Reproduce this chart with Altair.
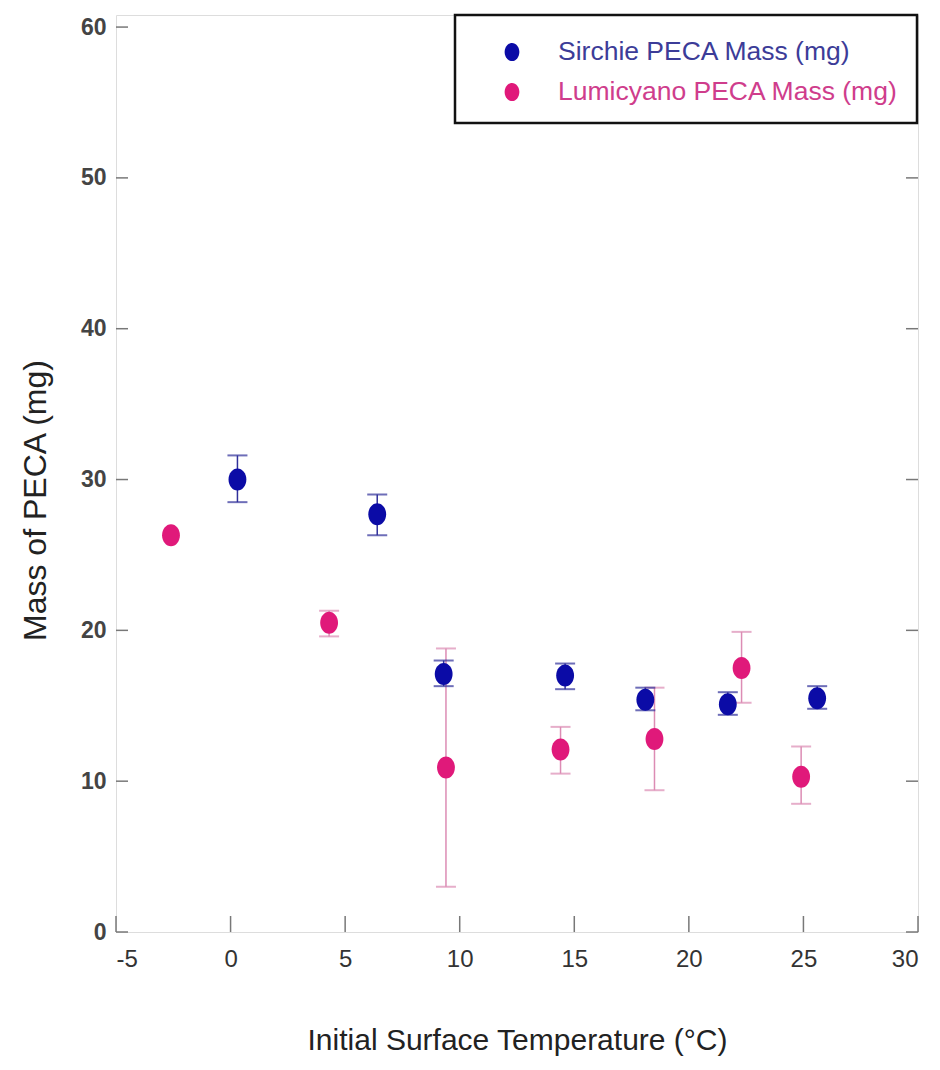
import altair as alt
import pandas as pd

# ---- data ----
sirchie_temp = [0.3, 6.4, 9.3, 14.6, 18.1, 21.7, 25.6]
sirchie_mass = [30.0, 27.7, 17.1, 17.0, 15.4, 15.1, 15.5]
sirchie_lo = [28.5, 26.3, 16.3, 16.1, 14.7, 14.4, 14.8]
sirchie_hi = [31.6, 29.0, 18.0, 17.8, 16.2, 15.9, 16.3]

lumi_temp = [-2.6, 4.3, 9.4, 14.4, 18.5, 22.3, 24.9]
lumi_mass = [26.3, 20.5, 10.9, 12.1, 12.8, 17.5, 10.3]
lumi_lo = [None, 19.6, 3.0, 10.5, 9.4, 15.2, 8.5]
lumi_hi = [None, 21.3, 18.8, 13.6, 16.2, 19.9, 12.3]

series_names = ["Sirchie PECA Mass (mg)", "Lumicyano PECA Mass (mg)"]
x_ticks = [-5, 0, 5, 10, 15, 20, 25, 30]
y_ticks = [0, 10, 20, 30, 40, 50, 60]

BLUE = "#0b0ba6"
PINK = "#e0197a"
BLUE_ERR = "#30309a"
PINK_ERR = "#dc8cb4"
FRAME = "#787878"
FONT = "Liberation Sans"

W, H = 802, 917

s_df = pd.DataFrame({"t": sirchie_temp, "m": sirchie_mass, "lo": sirchie_lo, "hi": sirchie_hi})
l_df = pd.DataFrame({"t": lumi_temp, "m": lumi_mass, "lo": lumi_lo, "hi": lumi_hi})
xt_df = pd.DataFrame({"t": x_ticks})
yt_df = pd.DataFrame({"m": y_ticks})

xscale = alt.Scale(domain=[-5, 30], nice=False, zero=False)
yscale = alt.Scale(domain=[0, 60.8], nice=False, zero=False)

X_TITLE = "Initial Surface Temperature (\u00b0C)"
Y_TITLE = "Mass of PECA (mg)"

x_axis = alt.Axis(
    values=x_ticks, grid=False, domain=False, ticks=False, tickSize=0,
    labelExpr="'' + datum.value",
    labelPadding=15, labelFontSize=24, labelFont=FONT, labelColor="#333333",
    title=X_TITLE, titleFont=FONT, titleFontSize=30,
    titleFontWeight="normal", titleColor="#222222", titleY=108, titleBaseline="middle",
)
y_axis = alt.Axis(
    values=y_ticks, grid=False, domain=False, ticks=False, tickSize=0,
    labelPadding=10, labelFontSize=23, labelFont=FONT, labelFontWeight="bold",
    labelColor="#444444",
    title=Y_TITLE, titleFont=FONT, titleFontSize=32,
    titleFontWeight="normal", titleColor="#222222",
    titleX=-81, titleY=485, titleAngle=-90, titleAlign="center", titleBaseline="middle",
)


def X(field="t"):
    return alt.X(f"{field}:Q", scale=xscale, axis=x_axis, title=X_TITLE)


def Y(field="m"):
    return alt.Y(f"{field}:Q", scale=yscale, axis=y_axis, title=Y_TITLE)


# inward ticks on left, right and bottom edges
left_ticks = alt.Chart(yt_df).mark_rule(color=FRAME, strokeWidth=1.5).encode(
    y=Y(), x=alt.value(0), x2=alt.value(12))
right_ticks = alt.Chart(yt_df).mark_rule(color=FRAME, strokeWidth=1.5).encode(
    y=Y(), x=alt.value(W - 12), x2=alt.value(W))
bottom_ticks = alt.Chart(xt_df).mark_rule(color=FRAME, strokeWidth=1.5).encode(
    x=X(), y=alt.value(H - 16), y2=alt.value(H))


def errbars(df, color):
    line = alt.Chart(df).mark_rule(color=color, strokeWidth=1.5).encode(
        x=X(), y=Y("lo"), y2="hi:Q")
    cap_lo = alt.Chart(df).mark_tick(color=color, orient="horizontal", size=20, thickness=2).encode(
        x=X(), y=Y("lo"))
    cap_hi = alt.Chart(df).mark_tick(color=color, orient="horizontal", size=20, thickness=2).encode(
        x=X(), y=Y("hi"))
    return [line, cap_lo, cap_hi]


ELLIPSE = "M0,-1.05A0.85,1.05 0 1,1 0,1.05A0.85,1.05 0 1,1 0,-1.05Z"


def points(df, color):
    return alt.Chart(df).mark_point(shape=ELLIPSE, filled=True, size=440, color=color, opacity=1).encode(
        x=X(), y=Y())


# manual legend box
one = pd.DataFrame({"a": [0]})
legend_box = alt.Chart(one).mark_rect(fill="white", stroke="#111111", strokeWidth=2.5).encode(
    x=alt.value(339), x2=alt.value(801), y=alt.value(0), y2=alt.value(108))
leg_layers = [legend_box]
for i, (name, col, tcol) in enumerate(zip(series_names, [BLUE, PINK], ["#3c3c98", "#cf3d8c"])):
    yy = 37 + 40 * i
    leg_layers.append(alt.Chart(one).mark_point(shape=ELLIPSE, filled=True, size=300, color=col,
                                                opacity=1).encode(x=alt.value(396), y=alt.value(yy)))
    leg_layers.append(alt.Chart(one).mark_text(text=name, align="left", baseline="middle", font=FONT,
                                               fontSize=26.5, color=tcol).encode(
        x=alt.value(442), y=alt.value(yy)))

chart = alt.layer(
    left_ticks, right_ticks, bottom_ticks,
    *errbars(l_df, PINK_ERR), *errbars(s_df, BLUE_ERR),
    points(l_df, PINK), points(s_df, BLUE),
    *leg_layers,
).properties(
    width=W, height=H,
    autosize=alt.AutoSizeParams(type="none"),
    padding={"left": 116, "top": 15, "right": 22, "bottom": 138},
).configure_view(stroke=FRAME, strokeWidth=2).configure(background="white")

chart.save("out.html", embed_options={"renderer": "svg", "actions": False})
